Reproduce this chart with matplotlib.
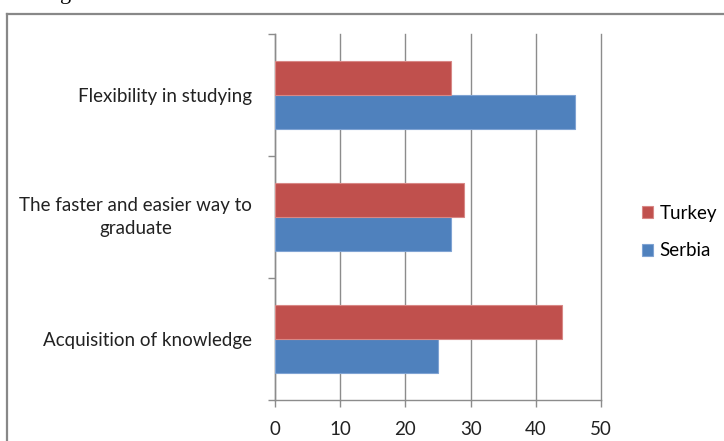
import numpy as np
import matplotlib.pyplot as plt
from matplotlib.lines import Line2D

plt.rcParams['font.family'] = ['Lato', 'DejaVu Sans']

# survey answers, bottom category first
categories = ['Acquisition of knowledge',
              'The faster and easier way to\ngraduate',
              'Flexibility in studying']
serbia = [25, 27, 46]
turkey = [44, 29, 27]
x_ticks = [0, 10, 20, 30, 40, 50]

red = '#C0504D'
blue = '#4F81BD'
grid_col = '#8C8C8C'

fig = plt.figure(figsize=(7.24, 4.41), dpi=100)
ax = fig.add_axes([275 / 724, 1 - 400 / 441, 326 / 724, 366 / 441])

y = np.arange(len(categories))
h = 0.28
b1 = ax.barh(y - h / 2, serbia, height=h, color=blue, edgecolor='#7FA3D3', linewidth=0.8, label='Serbia', zorder=3)
b2 = ax.barh(y + h / 2, turkey, height=h, color=red, edgecolor='#D88886', linewidth=0.8, label='Turkey', zorder=3)

ax.set_xlim(0, 50)
ax.set_ylim(-0.5, len(categories) - 0.5)
ax.set_xticks(x_ticks)
ax.set_xticklabels([str(v) for v in x_ticks], fontsize=13.5, color='#222222')
ax.xaxis.grid(True, color=grid_col, linewidth=1, zorder=0)
for gl in ax.get_xgridlines():
    gl.set_clip_on(False)

ax.set_yticks(y)
ax.set_yticklabels(categories, fontsize=13.5, color='#222222', ha='right',
                   multialignment='center', linespacing=1.45)
# two-line label sits centred on its band
for lbl in ax.get_yticklabels():
    if '\n' in lbl.get_text():
        lbl.set_va('center')
ax.set_yticks(np.arange(-0.5, len(categories), 1.0), minor=True)
ax.tick_params(axis='y', which='major', length=0, pad=16.5)
ax.tick_params(axis='y', which='minor', length=5, color=grid_col, width=1)
ax.tick_params(axis='x', length=5, color=grid_col, width=1, pad=10)

for s in ['top', 'right']:
    ax.spines[s].set_visible(False)
for s in ['left', 'bottom']:
    ax.spines[s].set_color(grid_col)
    ax.spines[s].set_linewidth(1)

ax.legend([b2, b1], ['Turkey', 'Serbia'], loc='center left', bbox_to_anchor=(642 / 724, 1 - 232 / 441),
          bbox_transform=fig.transFigure, frameon=False, fontsize=13.5, borderpad=0, borderaxespad=0,
          handlelength=0.6, handleheight=0.6, handletextpad=0.35, labelspacing=1.1)

# outer chart frame
fig.add_artist(Line2D([6.5 / 724, 1], [1 - 13.5 / 441, 1 - 13.5 / 441], color='#888888', lw=1.6))
fig.add_artist(Line2D([6.5 / 724, 6.5 / 724], [0, 1 - 13.5 / 441], color='#888888', lw=1.6))

# tail of the caption line above the chart
fig.text(60 / 724, 1 + 0.5 / 441, 'g', fontsize=16, family='Liberation Serif', va='baseline', color='black')

fig.savefig('out.png', dpi=100)
